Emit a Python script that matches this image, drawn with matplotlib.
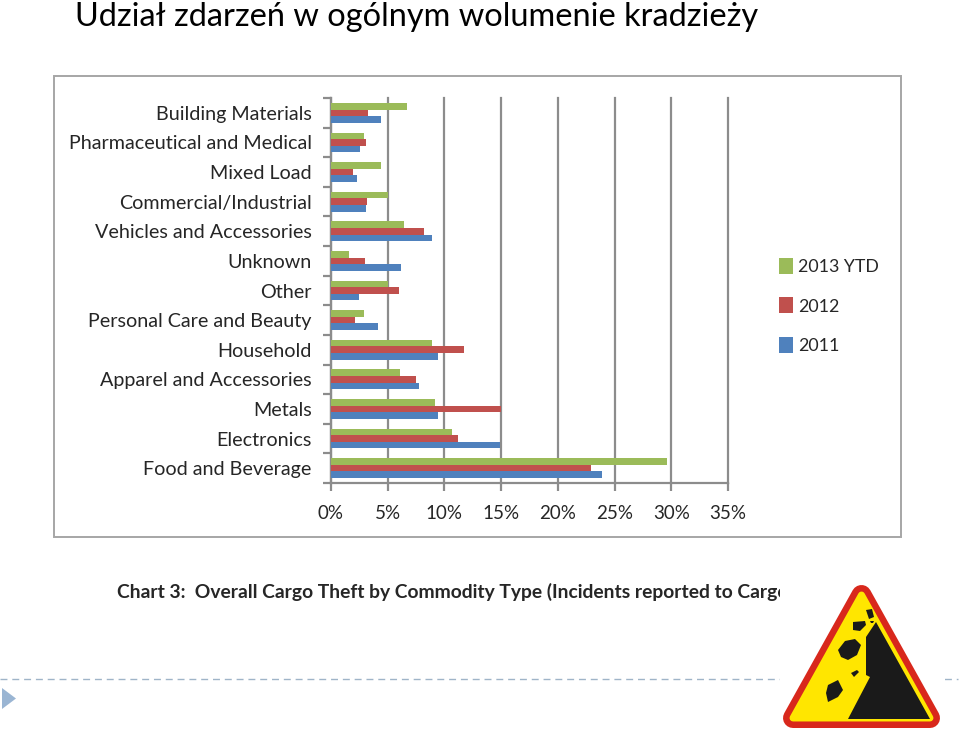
import numpy as np
import matplotlib
matplotlib.use('Agg')
import matplotlib.pyplot as plt
from matplotlib.patches import Polygon, Rectangle

categories = ['Building Materials', 'Pharmaceutical and Medical', 'Mixed Load',
              'Commercial/Industrial', 'Vehicles and Accessories', 'Unknown', 'Other',
              'Personal Care and Beauty', 'Household', 'Apparel and Accessories',
              'Metals', 'Electronics', 'Food and Beverage']
y2013 = [6.7, 2.9, 4.4, 5.0, 6.4, 1.6, 5.0, 2.9, 8.9, 6.1, 9.2, 10.7, 29.6]
y2012 = [3.3, 3.1, 1.9, 3.2, 8.2, 3.0, 6.0, 2.1, 11.7, 7.5, 15.0, 11.2, 22.9]
y2011 = [4.4, 2.6, 2.3, 3.1, 8.9, 6.2, 2.5, 4.1, 9.4, 7.8, 9.4, 14.9, 23.9]
xticks = [0, 5, 10, 15, 20, 25, 30, 35]

W, H = 960, 737
GREEN, RED, BLUE = '#9bbb59', '#c0504d', '#4f81bd'
LINE = '#8c8c8c'
plt.rcParams['font.family'] = ['Lato', 'DejaVu Sans']

fig = plt.figure(figsize=(W / 100, H / 100), dpi=100)

# page overlay in pixel coordinates
bg = fig.add_axes([0, 0, 1, 1], zorder=0)
bg.set_xlim(0, W)
bg.set_ylim(H, 0)
bg.axis('off')
bg.text(75, 17, 'Udział zdarzeń w ogólnym wolumenie kradzieży', fontsize=23.4,
        va='center', ha='left', color='black')
bg.add_patch(Rectangle((53.5, 76), 847, 461, fc='white', ec='#a6a6a6', lw=1.4))
bg.text(117, 592, 'Chart 3:  Overall Cargo Theft by Commodity Type (Incidents reported to CargoNet)',
        fontsize=13.9, fontweight='bold', va='center', ha='left', color='#262626')
bg.plot([0, 958], [678.5, 678.5], color='#9fb4c8', lw=1, dashes=(5, 3.5))
bg.add_patch(Polygon([(2, 688), (2, 709), (16, 698.5)], fc='#9ab5d3', ec='none'))

# road sign, its white background hides the end of the caption and the dashes
bg.add_patch(Rectangle((780, 572), 165, 165, fc='white', ec='none', zorder=3))
sign = [(861.5, 595), (930, 718), (793, 718)]
bg.add_patch(Polygon(sign, fc='#d8281c', ec='#d8281c', lw=14.4, joinstyle='round', zorder=4))
bg.add_patch(Polygon(sign, fc='#ffe600', ec='#ffe600', lw=5.0, joinstyle='round', zorder=5))
bg.add_patch(Polygon([(876, 622), (930, 719), (848, 719), (870, 677), (866, 675), (866, 637)],
                     fc='#1a1a1a', ec='none', zorder=6))
rocks = [[(866, 610), (872, 609), (874, 617), (869, 619)],
         [(853, 622), (865, 621), (866, 625), (860, 631), (853, 630)],
         [(845, 641), (855, 639), (861, 645), (857, 655), (848, 660), (841, 657), (838, 650)],
         [(851, 673), (857, 670), (859, 672), (854, 677)],
         [(828, 685), (838, 680), (843, 690), (838, 697), (828, 702), (826, 693)],
         [(870, 621), (874, 621), (873, 623), (871, 623)]]
for r in rocks:
    bg.add_patch(Polygon(r, fc='#1a1a1a', ec='none', zorder=6))

# chart
ax = fig.add_axes([331 / W, 1 - 483 / H, 397 / W, 385 / H], zorder=1)
ax.patch.set_alpha(0)
pos = np.arange(len(categories))
h = 0.222
ax.barh(pos - h, y2013, h, color=GREEN, label='2013 YTD', zorder=3)
ax.barh(pos, y2012, h, color=RED, label='2012', zorder=3)
ax.barh(pos + h, y2011, h, color=BLUE, label='2011', zorder=3)
ax.set_xlim(0, 35)
ax.set_ylim(len(categories) - 0.5, -0.5)
ax.set_xticks(xticks)
ax.set_xticklabels([f'{t}%' for t in xticks], fontsize=13.5, color='#262626')
ax.set_yticks(pos)
ax.set_yticklabels(categories, fontsize=14.2, color='#262626')
ax.set_yticks(np.arange(len(categories) + 1) - 0.5, minor=True)
ax.tick_params(axis='y', which='major', length=0, pad=14)
ax.tick_params(axis='y', which='minor', length=6, width=1.6, color=LINE)
ax.tick_params(axis='x', length=6, width=1.6, color=LINE, pad=10)
ax.grid(axis='x', color=LINE, lw=1.6, zorder=1)
for g in ax.get_xgridlines():
    g.set_clip_on(False)
ax.set_axisbelow(True)
for s in ['top', 'right']:
    ax.spines[s].set_visible(False)
for s in ['left', 'bottom']:
    ax.spines[s].set_color(LINE)
    ax.spines[s].set_linewidth(1.6)

fig.legend(loc='center left', bbox_to_anchor=(763 / W, 1 - 306 / H), frameon=False,
           fontsize=12.8, labelspacing=1.25, handlelength=0.76, handleheight=1.0,
           handletextpad=0.32, labelcolor='#262626')

fig.savefig('out.png', dpi=100)
